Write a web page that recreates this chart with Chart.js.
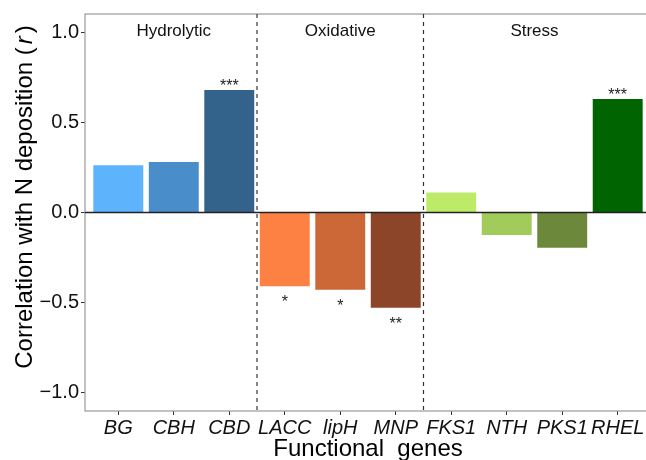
<!DOCTYPE html>
<html>
<head>
<meta charset="utf-8">
<script src="https://cdn.jsdelivr.net/npm/chart.js@4"></script>
<style>
  html, body { margin: 0; padding: 0; background: #fff; overflow: hidden; }
  #wrap { width: 660px; height: 460px; }
</style>
</head>
<body>
<div id="wrap"><canvas id="corr_chart" width="660" height="460"></canvas></div>
<script>
const genes = ['BG', 'CBH', 'CBD', 'LACC', 'lipH', 'MNP', 'FKS1', 'NTH', 'PKS1', 'RHEL'];
const corr = [0.262, 0.28, 0.679, -0.408, -0.428, -0.528, 0.111, -0.125, -0.196, 0.629];
const stars = ['', '', '***', '*', '*', '**', '', '', '', '***'];
const groupNames = ['Hydrolytic', 'Oxidative', 'Stress'];
const groupSizes = [3, 3, 4];
const yTicks = [-1, -0.5, 0, 0.5, 1];
const barColors = ['#5EB3FD', '#4A8DCB', '#33628A', '#FE8144', '#CC6838', '#8C4528',
                   '#BDEB68', '#A1CB5A', '#6C893B', '#006400'];

const FONT = '"Liberation Sans", Arial, sans-serif';

const extras = {
    id: 'extras',
    afterDatasetsDraw(chart) {
        const ctx = chart.ctx;
        const a = chart.chartArea;
        const x = chart.scales.x, y = chart.scales.y;
        ctx.save();

        // panel border
        ctx.strokeStyle = '#9a9a9a';
        ctx.lineWidth = 1.2;
        ctx.strokeRect(a.left, a.top, a.right - a.left, a.bottom - a.top);

        // group separators
        ctx.strokeStyle = '#333';
        ctx.lineWidth = 1.2;
        ctx.setLineDash([4, 4]);
        let start = 0;
        groupSizes.slice(0, -1).forEach(n => {
            start += n;
            const px = x.getPixelForValue(start - 0.5);
            ctx.beginPath();
            ctx.moveTo(px, a.top);
            ctx.lineTo(px, a.bottom);
            ctx.stroke();
        });
        ctx.setLineDash([]);

        // zero line
        const y0 = y.getPixelForValue(0);
        ctx.strokeStyle = '#222';
        ctx.lineWidth = 1.5;
        ctx.beginPath();
        ctx.moveTo(a.left, y0);
        ctx.lineTo(a.right, y0);
        ctx.stroke();

        // group names
        ctx.fillStyle = '#111';
        ctx.font = '17px ' + FONT;
        ctx.textAlign = 'center';
        ctx.textBaseline = 'alphabetic';
        start = 0;
        groupNames.forEach((g, i) => {
            const mid = start + (groupSizes[i] - 1) / 2;
            ctx.fillText(g, x.getPixelForValue(mid), 36);
            start += groupSizes[i];
        });

        // significance stars
        ctx.font = '16px ' + FONT;
        ctx.fillStyle = '#222';
        stars.forEach((s, i) => {
            if (!s) return;
            const px = x.getPixelForValue(i);
            const py = y.getPixelForValue(corr[i]);
            const c = corr[i] >= 0 ? py - 8 : py + 12;
            ctx.fillText(s, px, c + 9);
        });

        // x title
        ctx.fillStyle = '#000';
        ctx.font = '24px ' + FONT;
        ctx.fillText('Functional  genes', (a.left + a.right) / 2, 456);

        // y title with italic r
        const parts = [['Correlation with N deposition (', ''], ['r', 'italic '], [')', '']];
        let total = 0;
        parts.forEach(p => { ctx.font = p[1] + '24px ' + FONT; total += ctx.measureText(p[0]).width; });
        total += 6;
        ctx.translate(32, 197);
        ctx.rotate(-Math.PI / 2);
        ctx.textAlign = 'left';
        let cx = -total / 2;
        parts.forEach((p, i) => {
            ctx.font = p[1] + '24px ' + FONT;
            ctx.fillText(p[0], cx, 0);
            cx += ctx.measureText(p[0]).width + (i < 2 ? 3 : 0);
        });
        ctx.restore();
    }
};

new Chart(document.getElementById('corr_chart'), {
    type: 'bar',
    data: {
        datasets: [{
            data: corr.map((v, i) => ({x: i, y: v})),
            backgroundColor: barColors,
            borderWidth: 0,
            categoryPercentage: 1,
            barPercentage: 0.9
        }]
    },
    options: {
        responsive: false,
        animation: false,
        layout: {padding: {top: 9, right: 9, left: 0, bottom: 0}},
        plugins: {legend: {display: false}, tooltip: {enabled: false}},
        scales: {
            x: {
                type: 'linear',
                offset: false,
                min: -0.6,
                max: 9.6,
                afterBuildTicks: s => { s.ticks = genes.map((g, i) => ({value: i})); },
                afterFit: s => { s.height = 49; },
                grid: {offset: false, drawOnChartArea: false, drawTicks: true, tickLength: 4, color: '#333'},
                border: {display: false},
                ticks: {
                    autoSkip: false,
                    maxRotation: 0,
                    padding: 1,
                    color: '#111',
                    font: {family: FONT, size: 20, style: 'italic'},
                    callback: v => genes[v]
                }
            },
            y: {
                min: -1.1,
                max: 1.1,
                afterBuildTicks: s => { s.ticks = yTicks.map(v => ({value: v})); },
                afterFit: s => { s.width = 85; },
                grid: {drawOnChartArea: false, drawTicks: true, tickLength: 4, color: '#333'},
                border: {display: false},
                ticks: {
                    padding: 2,
                    color: '#111',
                    font: {family: FONT, size: 20},
                    callback: v => (v < 0 ? '\u2212' : '') + Math.abs(v).toFixed(1)
                }
            }
        }
    },
    plugins: [extras]
});
</script>
</body>
</html>
